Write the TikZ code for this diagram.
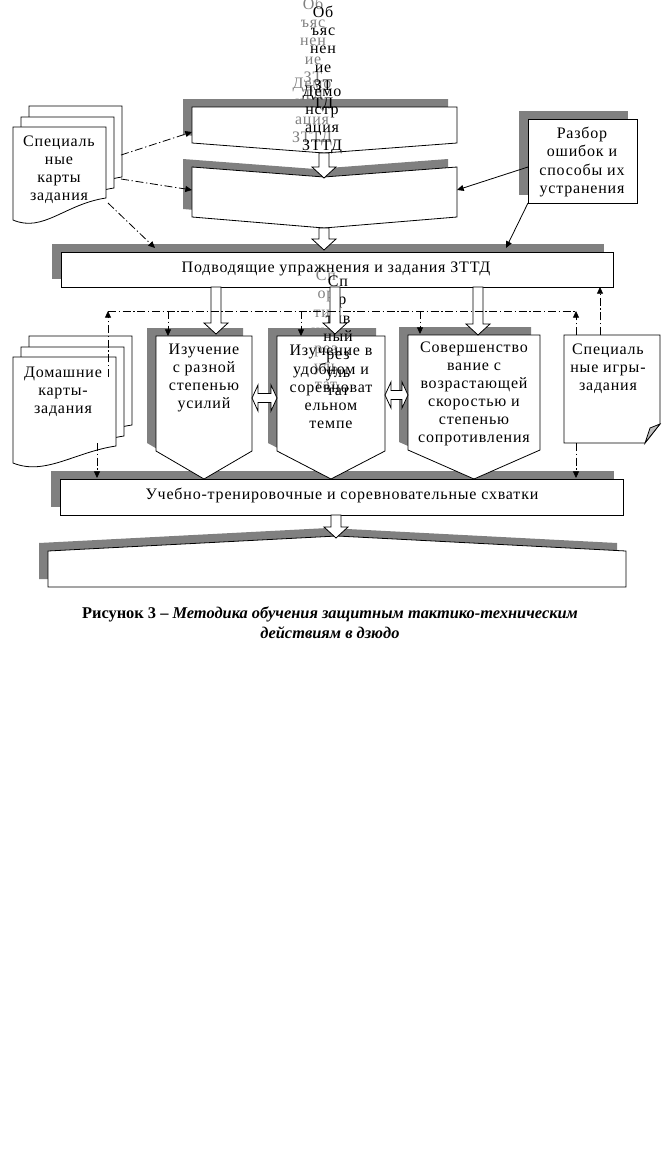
\documentclass[tikz,border=0pt]{standalone}
\usepackage{fontspec}
\setmainfont{Liberation Serif}
\newfontfamily\boxfont{Liberation Serif}[LetterSpace=5]
\usetikzlibrary{arrows.meta}
\definecolor{shadowgray}{RGB}{128,128,128}

\begin{document}
\begin{tikzpicture}
[x=0.75pt,y=-0.75pt,
  shadowDecorate/.style={fill=shadowgray,draw=none},
  boxDecorate/.style={fill=white,draw=black,line width=0.6pt},
  textDecorate/.style={font=\boxfont\fontsize{12pt}{13.6pt}\selectfont,align=center,inner sep=0pt},
  ghostDecorate/.style={textDecorate,text=shadowgray},
  dashLine/.style={line width=0.6pt,dash pattern=on 6pt off 2pt on 1pt off 2pt},
  dashDecorate/.style={dashLine,-{Triangle[length=5pt,width=4.5pt]}},
  solidDecorate/.style={line width=0.6pt,-{Triangle[length=5pt,width=4.5pt]}},
  blockArrow/.style={fill=white,draw=black,line width=0.6pt}]
\useasboundingbox (0,0) rectangle (662,1164);

%% shadows first, then the white boxes
\foreach \dx/\dy/\sty in {-9/-8/shadowDecorate, 0/0/boxDecorate}
{
  \begin{scope}[shift={(\dx,\dy)}]
    \path[\sty] (192,107) -- (457,107) -- (457,143) -- (324,153) -- (192,143) -- cycle;
    \path[\sty] (192,167) -- (324,177) -- (457,167) -- (457,217) -- (324,228) -- (192,217) -- cycle;
    \path[\sty] (528,119) rectangle (637,203);
    \path[\sty] (61,252) rectangle (613,287);
    \path[\sty] (156,336) -- (252,336) -- (252,451) -- (204,479) -- (156,451) -- cycle;
    \path[\sty] (277,336) -- (385,336) -- (385,451) -- (331,479) -- (277,451) -- cycle;
    \path[\sty] (408,335) -- (540,335) -- (540,450) -- (474,479) -- (408,450) -- cycle;
    \path[\sty] (60,479) rectangle (623,515);
    \path[\sty] (48,551) -- (337,536) -- (626,551) -- (626,587) -- (48,587) -- cycle;
  \end{scope}
}

%% stacks of cards
\foreach \dx/\dy in {16/-21, 8/-10, 0/0}
{
  \draw[boxDecorate,shift={(\dx,\dy)}] (13,127) -- (106,127) -- (106,198)
    .. controls (65,204) and (43,233) .. (13,220) -- cycle;
  \draw[boxDecorate,shift={(\dx,\dy)}] (13,357) -- (116,357) -- (116,446)
    .. controls (75,452) and (45,476) .. (13,463) -- cycle;
}
%% note with folded corner
\draw[boxDecorate] (564,335) -- (660,335) -- (660,424) -- (645,443) -- (564,443) -- cycle;
\filldraw[fill=shadowgray!50,draw=black,line width=0.6pt] (660,424) -- (645,443) -- (650,428) -- cycle;

%% overflowing texts
\node[ghostDecorate] (explainG) at (313,51) {Об\\ъяс\\нен\\ие\\ЗТ\\ТД};
\node[ghostDecorate] (demoG) at (312,112) {Демо\\нстр\\ация\\ЗТТД};
\node[ghostDecorate] (resultG) at (326,330) {Сп\\ор\\тив\\ный\\рез\\уль\\тат};
\node[textDecorate] (explain) at (323,59) {Об\\ъяс\\нен\\ие\\ЗТ\\ТД};
\node[textDecorate] (demo) at (322,120) {Демо\\нстр\\ация\\ЗТТД};
\node[textDecorate] (result) at (338,336) {Сп\\ор\\тив\\ный\\рез\\уль\\тат};

%% block arrows
\foreach \xc/\ya/\yb in {324/153/178, 324/228/250, 216/287/334, 335/287/334, 478/287/335, 336/515/538}
{
  \draw[blockArrow] (\xc-5,\ya) -- (\xc+5,\ya) -- (\xc+5,\yb-11) -- (\xc+12,\yb-11)
    -- (\xc,\yb) -- (\xc-12,\yb-11) -- (\xc-5,\yb-11) -- cycle;
}
\foreach \xa/\xb/\yc in {252/277/398, 385/408/395}
{
  \draw[blockArrow] (\xa,\yc) -- (\xa+6,\yc-13) -- (\xa+6,\yc-4.5) -- (\xb-6,\yc-4.5)
    -- (\xb-6,\yc-13) -- (\xb,\yc) -- (\xb-6,\yc+13) -- (\xb-6,\yc+4.5)
    -- (\xa+6,\yc+4.5) -- (\xa+6,\yc+13) -- cycle;
}

%% texts of the boxes
\node[textDecorate] (cards) at (59,170) {Специаль\\ные\\карты\\задания};
\node[textDecorate] (razbor) at (582,162) {Разбор\\ошибок и\\способы их\\устранения};
\node[textDecorate] (podvod) at (336,269) {Подводящие упражнения и задания ЗТТД};
\node[textDecorate] (studyA) at (204,378) {Изучение\\с разной\\степенью\\усилий};
\node[textDecorate] (studyB) at (331,387) {Изучение в\\удобном и\\соревноват\\ельном\\темпе};
\node[textDecorate] (perfect) at (474,394) {Совершенство\\вание с\\возрастающей\\скоростью и\\степенью\\сопротивления};
\node[textDecorate] (home) at (63,392) {Домашние\\карты-\\задания};
\node[textDecorate] (games) at (608,369) {Специаль\\ные игры-\\задания};
\node[textDecorate] (bouts) at (342,495) {Учебно-тренировочные и соревновательные схватки};

%% connector ends
\coordinate (cardsA) at (121,155);
\coordinate (cardsB) at (121,179);
\coordinate (cardsC) at (108,203);
\coordinate (explainW) at (192,132);
\coordinate (demoW) at (192,190);
\coordinate (demoE) at (457,190);
\coordinate (podvodL) at (155,248);
\coordinate (podvodR) at (506,248);
\coordinate (podvodS) at (600,287);
\coordinate (razborW) at (528,167);
\coordinate (razborSW) at (528,203);
\coordinate (busL) at (108,311);
\coordinate (busR) at (576,311);
\coordinate (homeUp) at (108,377);
\coordinate (homeDown) at (97,443);
\coordinate (boutsL) at (97,478);
\coordinate (gamesUpA) at (576,335);
\coordinate (gamesUpB) at (600,335);
\coordinate (gamesDown) at (576,443);
\coordinate (boutsR) at (576,478);

%% connectors
\draw[dashDecorate] (cardsA) -- (explainW);
\draw[dashDecorate] (cardsB) -- (demoW);
\draw[dashDecorate] (cardsC) -- (podvodL);
\draw[solidDecorate] (razborW) -- (demoE);
\draw[solidDecorate] (razborSW) -- (podvodR);
\draw[dashLine] (busL) -- (busR);
\foreach \name/\x/\y in {A/168/336, B/301/336, C/420/334}
{
  \coordinate (busTap\name) at (\x,311);
  \coordinate (boxTop\name) at (\x,\y);
  \draw[dashDecorate] (busTap\name) -- (boxTop\name);
}
\draw[dashDecorate] (homeUp) -- (busL);
\draw[dashDecorate] (homeDown) -- (boutsL);
\draw[dashDecorate] (gamesUpA) -- (busR);
\draw[dashDecorate] (gamesUpB) -- (podvodS);
\draw[dashDecorate] (gamesDown) -- (boutsR);

%% caption
\node[font=\fontsize{12.3pt}{15pt}\selectfont\bfseries,align=center,inner sep=0pt] (caption) at (330,623)
  {Рисунок 3 – \textit{Методика обучения защитным тактико-техническим}\\\textit{действиям в дзюдо}};
\end{tikzpicture}
\end{document}
